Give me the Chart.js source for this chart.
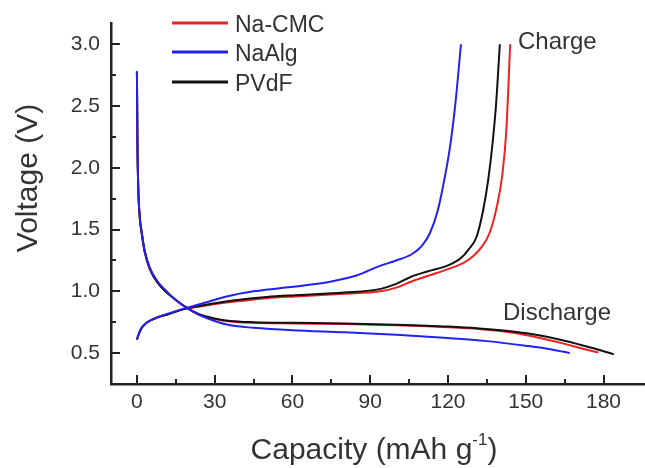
<!DOCTYPE html>
<html>
<head>
<meta charset="utf-8">
<script src="https://cdn.jsdelivr.net/npm/chart.js@4.4.1/dist/chart.umd.min.js"></script>
<style>
  html, body { margin: 0; padding: 0; background: #ffffff; }
  canvas { display: block; }
</style>
</head>
<body>
<canvas id="c" width="645" height="468"></canvas>
<script>
// ---------------- data ----------------
const seriesNames = ['Na-CMC', 'NaAlg', 'PVdF'];

const cmcDischargeCap = [0, 0.2, 0.5, 1, 2, 3, 5, 8, 11, 15, 19, 24, 30, 36, 45, 60, 80, 100, 120, 132, 145, 155, 165, 172, 178];
const cmcDischargeV   = [2.78, 2.2, 1.85, 1.62, 1.45, 1.32, 1.18, 1.07, 1.0, 0.93, 0.87, 0.81, 0.775, 0.755, 0.745, 0.74, 0.735, 0.725, 0.71, 0.695, 0.665, 0.625, 0.575, 0.535, 0.505];
const cmcChargeCap    = [0, 1, 2, 4, 8, 12, 19, 25, 37, 50, 63, 80, 94, 100, 106, 113, 120, 126, 130, 133, 136, 139, 141, 142.5, 144];
const cmcChargeV      = [0.61, 0.67, 0.71, 0.75, 0.79, 0.815, 0.86, 0.88, 0.915, 0.945, 0.96, 0.98, 1.0, 1.03, 1.08, 1.13, 1.18, 1.23, 1.29, 1.36, 1.47, 1.7, 1.95, 2.3, 3.0];

const algDischargeCap = [0, 0.2, 0.5, 1, 2, 3, 5, 8, 11, 15, 19, 24, 30, 36, 45, 60, 80, 100, 120, 135, 150, 160, 167];
const algDischargeV   = [2.78, 2.2, 1.85, 1.63, 1.46, 1.33, 1.19, 1.08, 1.01, 0.93, 0.87, 0.81, 0.76, 0.725, 0.705, 0.685, 0.668, 0.648, 0.622, 0.597, 0.56, 0.53, 0.5];
const algChargeCap    = [0, 1, 2, 4, 8, 12, 18, 25, 35, 45, 55, 65, 75, 85, 93, 100, 106, 110, 113, 116, 119, 121, 123, 125];
const algChargeV      = [0.61, 0.67, 0.71, 0.75, 0.79, 0.82, 0.86, 0.9, 0.96, 1.0, 1.025, 1.05, 1.08, 1.13, 1.2, 1.25, 1.3, 1.37, 1.47, 1.65, 1.95, 2.2, 2.55, 3.0];

const pvdfDischargeCap = [0, 0.2, 0.5, 1, 2, 3, 5, 8, 11, 15, 19, 24, 30, 36, 45, 60, 80, 100, 120, 132, 145, 155, 165, 175, 184];
const pvdfDischargeV   = [2.78, 2.2, 1.85, 1.62, 1.45, 1.32, 1.18, 1.07, 1.0, 0.93, 0.87, 0.815, 0.78, 0.76, 0.75, 0.745, 0.74, 0.73, 0.715, 0.7, 0.675, 0.645, 0.6, 0.545, 0.49];
const pvdfChargeCap    = [0, 1, 2, 4, 8, 12, 19, 25, 37, 50, 63, 80, 94, 100, 106, 112, 120, 125, 128, 131, 133.5, 135.5, 137, 138.5, 140];
const pvdfChargeV      = [0.61, 0.67, 0.71, 0.75, 0.79, 0.815, 0.86, 0.885, 0.925, 0.955, 0.97, 0.99, 1.02, 1.06, 1.12, 1.16, 1.21, 1.27, 1.34, 1.44, 1.65, 1.9, 2.16, 2.5, 3.0];

const xTicks = [0, 30, 60, 90, 120, 150, 180];
const xMinorTicks = [15, 45, 75, 105, 135, 165];
const yTicks = [0.5, 1.0, 1.5, 2.0, 2.5, 3.0];
const yMinorTicks = [0.75, 1.25, 1.75, 2.25, 2.75];

// ---------------- styling ----------------
const FONT = "'Liberation Sans', Arial, Helvetica, sans-serif";
const TEXT = '#333333';
const AXIS = '#222222';
const colors = { 'Na-CMC': '#ee2222', 'NaAlg': '#2222ee', 'PVdF': '#111111' };

function pts(cap, v) { return cap.map((c, i) => ({ x: c, y: v[i] })); }
function ds(name, cap, v) {
  return {
    label: name,
    data: pts(cap, v),
    borderColor: colors[name],
    borderWidth: 2,
    pointRadius: 0,
    fill: false,
    cubicInterpolationMode: 'monotone'
  };
}

// first dataset is drawn on top
const datasets = [
  ds('NaAlg', algDischargeCap, algDischargeV),
  ds('NaAlg', algChargeCap, algChargeV),
  ds('PVdF', pvdfDischargeCap, pvdfDischargeV),
  ds('PVdF', pvdfChargeCap, pvdfChargeV),
  ds('Na-CMC', cmcDischargeCap, cmcDischargeV),
  ds('Na-CMC', cmcChargeCap, cmcChargeV)
];

const decorPlugin = {
  id: 'decor',
  afterDraw(chart) {
    const c = chart.ctx;
    const xs = chart.scales.x, ys = chart.scales.y;
    const area = chart.chartArea;
    c.save();
    // inward ticks
    c.strokeStyle = AXIS;
    c.lineWidth = 2;
    c.beginPath();
    xTicks.forEach(v => { const p = Math.round(xs.getPixelForValue(v)); c.moveTo(p, area.bottom); c.lineTo(p, area.bottom - 9); });
    xMinorTicks.forEach(v => { const p = Math.round(xs.getPixelForValue(v)); c.moveTo(p, area.bottom); c.lineTo(p, area.bottom - 5); });
    yTicks.forEach(v => { const p = Math.round(ys.getPixelForValue(v)); c.moveTo(area.left, p); c.lineTo(area.left + 9, p); });
    yMinorTicks.forEach(v => { const p = Math.round(ys.getPixelForValue(v)); c.moveTo(area.left, p); c.lineTo(area.left + 5, p); });
    c.stroke();

    // legend
    const legY = [23, 52, 82];
    seriesNames.forEach((n, i) => {
      c.strokeStyle = colors[n];
      c.lineWidth = 3;
      c.beginPath();
      c.moveTo(172, legY[i]);
      c.lineTo(228, legY[i]);
      c.stroke();
      c.fillStyle = TEXT;
      c.font = '23px ' + FONT;
      c.textAlign = 'left';
      c.textBaseline = 'alphabetic';
      c.fillText(n, 235, legY[i] + 9);
    });

    // annotations
    c.font = '24px ' + FONT;
    c.fillStyle = TEXT;
    c.fillText('Charge', 518, 49);
    c.fillText('Discharge', 503, 320);

    // x title with superscript
    c.font = '30px ' + FONT;
    const main = 'Capacity (mAh g';
    const sup = '-1';
    const close = ')';
    const wMain = c.measureText(main).width;
    c.font = '17px ' + FONT;
    const wSup = c.measureText(sup).width;
    c.font = '30px ' + FONT;
    const wClose = c.measureText(close).width;
    const total = wMain + wSup + wClose;
    let x0 = 374 - total / 2;
    const base = 459;
    c.fillText(main, x0, base);
    c.font = '17px ' + FONT;
    c.fillText(sup, x0 + wMain, base - 14);
    c.font = '30px ' + FONT;
    c.fillText(close, x0 + wMain + wSup, base);

    // y title
    c.translate(37, 178);
    c.rotate(-Math.PI / 2);
    c.textAlign = 'center';
    c.fillText('Voltage (V)', 0, 0);
    c.restore();
  }
};

new Chart(document.getElementById('c').getContext('2d'), {
  type: 'line',
  data: { datasets },
  options: {
    responsive: false,
    animation: false,
    layout: { padding: 0 },
    plugins: { legend: { display: false }, tooltip: { enabled: false } },
    scales: {
      x: {
        type: 'linear',
        min: -10,
        max: 196,
        afterFit(s) { s.height = 84; },
        afterBuildTicks(s) { s.ticks = xTicks.map(v => ({ value: v })); },
        grid: { display: false, drawTicks: false },
        border: { display: true, color: AXIS, width: 2.5 },
        ticks: { font: { family: FONT, size: 21 }, color: TEXT, padding: 6, maxRotation: 0, autoSkip: false }
      },
      y: {
        type: 'linear',
        min: 0.25,
        max: 3.167,
        afterFit(s) { s.width = 111; },
        afterBuildTicks(s) { s.ticks = yTicks.map(v => ({ value: v })); },
        grid: { display: false, drawTicks: false },
        border: { display: true, color: AXIS, width: 2.5 },
        ticks: {
          font: { family: FONT, size: 21 }, color: TEXT, padding: 11, autoSkip: false,
          callback: v => Number(v).toFixed(1)
        }
      }
    }
  },
  plugins: [decorPlugin]
});
</script>
</body>
</html>
